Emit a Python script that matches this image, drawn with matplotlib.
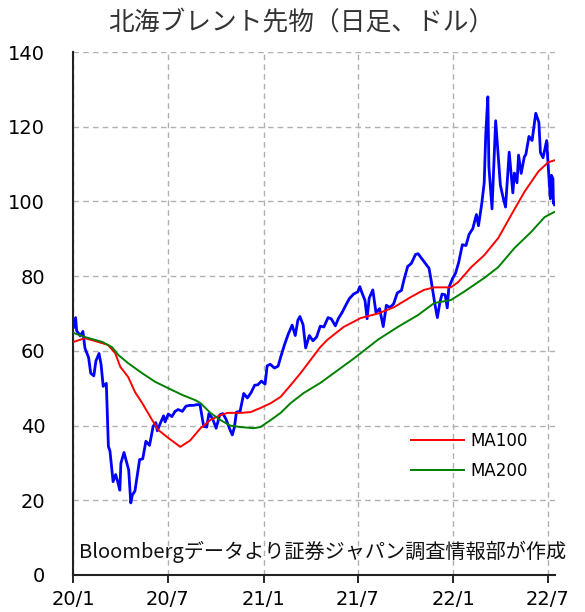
import matplotlib
matplotlib.use("Agg")
import matplotlib.pyplot as plt
import pandas as pd

plt.rcParams['font.family'] = ['DejaVu Sans', 'Noto Sans CJK JP']

title = "北海ブレント先物（日足、ドル）"
source_note = "Bloombergデータより証券ジャパン調査情報部が作成"

price_dates = [
    "2020-01-02", "2020-01-06", "2020-01-08", "2020-01-10", "2020-01-15", "2020-01-20", "2020-01-24",
    "2020-01-31", "2020-02-04", "2020-02-10", "2020-02-14", "2020-02-20", "2020-02-24", "2020-02-28",
    "2020-03-05", "2020-03-09", "2020-03-12", "2020-03-18", "2020-03-23", "2020-03-27", "2020-03-31",
    "2020-04-02", "2020-04-08", "2020-04-14", "2020-04-17", "2020-04-21", "2020-04-24", "2020-04-29",
    "2020-05-04", "2020-05-08", "2020-05-14", "2020-05-20", "2020-05-27", "2020-06-03", "2020-06-08",
    "2020-06-11", "2020-06-17", "2020-06-23", "2020-06-26", "2020-07-02", "2020-07-09", "2020-07-15",
    "2020-07-21", "2020-07-29", "2020-08-05", "2020-08-12", "2020-08-19", "2020-08-26", "2020-09-01",
    "2020-09-08", "2020-09-14", "2020-09-18", "2020-09-25", "2020-10-02", "2020-10-09", "2020-10-15",
    "2020-10-21", "2020-10-28", "2020-11-02", "2020-11-06", "2020-11-10", "2020-11-17", "2020-11-24",
    "2020-12-01", "2020-12-08", "2020-12-15", "2020-12-21", "2020-12-28",
    "2021-01-04", "2021-01-08", "2021-01-14", "2021-01-22", "2021-01-29", "2021-02-04", "2021-02-10",
    "2021-02-17", "2021-02-25", "2021-03-03", "2021-03-08", "2021-03-12", "2021-03-18", "2021-03-23",
    "2021-03-30", "2021-04-06", "2021-04-13", "2021-04-20", "2021-04-27", "2021-05-05", "2021-05-11",
    "2021-05-19", "2021-05-25", "2021-06-01", "2021-06-08", "2021-06-15", "2021-06-23", "2021-07-01",
    "2021-07-05", "2021-07-09", "2021-07-15", "2021-07-19", "2021-07-23", "2021-07-30", "2021-08-05",
    "2021-08-12", "2021-08-19", "2021-08-25", "2021-09-01", "2021-09-08", "2021-09-15", "2021-09-23",
    "2021-09-28", "2021-10-05", "2021-10-12", "2021-10-20", "2021-10-25", "2021-11-01", "2021-11-08",
    "2021-11-15", "2021-11-19", "2021-11-26", "2021-12-01", "2021-12-06", "2021-12-10", "2021-12-16",
    "2021-12-20", "2021-12-23", "2021-12-30",
    "2022-01-05", "2022-01-11", "2022-01-18", "2022-01-25", "2022-01-31", "2022-02-07", "2022-02-14",
    "2022-02-18", "2022-02-24", "2022-03-01", "2022-03-04", "2022-03-08", "2022-03-10", "2022-03-16",
    "2022-03-23", "2022-03-29", "2022-04-01", "2022-04-07", "2022-04-11", "2022-04-18", "2022-04-25",
    "2022-04-28", "2022-05-03", "2022-05-06", "2022-05-11", "2022-05-17", "2022-05-20", "2022-05-26",
    "2022-06-01", "2022-06-08", "2022-06-14", "2022-06-17", "2022-06-22", "2022-06-29", "2022-07-01",
    "2022-07-05", "2022-07-06", "2022-07-07", "2022-07-08", "2022-07-11", "2022-07-12", "2022-07-13",
    "2022-07-14",
]
price_vals = [
    66.3, 68.9, 65.4, 65.0, 64.0, 65.2, 60.7,
    58.2, 54.0, 53.3, 57.3, 59.3, 56.3, 50.5,
    51.3, 34.4, 33.2, 25.0, 26.9, 24.9, 22.7,
    29.9, 32.8, 29.6, 28.1, 19.3, 21.4, 22.5,
    27.2, 30.9, 31.1, 35.8, 34.7, 39.8, 40.8,
    38.6, 40.7, 42.6, 41.0, 43.1, 42.4, 43.8,
    44.3, 43.8, 45.2, 45.4, 45.4, 45.6, 45.6,
    39.8, 39.6, 43.2, 41.9, 39.3, 42.9, 43.2,
    41.7, 39.1, 37.5, 39.5, 43.6, 43.8, 48.6,
    47.4, 48.8, 50.8, 50.9, 51.9,
    51.1, 56.0, 56.4, 55.4, 55.9, 58.8, 61.5,
    64.3, 66.9, 64.1, 68.2, 69.2, 67.0, 60.8,
    64.1, 62.7, 63.7, 66.6, 66.4, 68.9, 68.6,
    66.7, 68.7, 70.3, 72.2, 74.0, 75.2, 75.8,
    77.2, 75.6, 73.5, 68.6, 74.1, 76.3, 70.3,
    71.3, 66.5, 72.2, 71.6, 72.6, 75.5, 76.2,
    79.1, 82.6, 83.4, 85.8, 86.0, 84.7, 83.4,
    82.1, 78.9, 72.7, 68.9, 73.1, 75.2, 75.0,
    71.5, 76.9, 79.3,
    80.8, 83.7, 88.4, 88.2, 91.2, 92.7, 96.5,
    93.5, 99.1, 105.0, 118.1, 128.0, 109.3, 98.0,
    121.6, 110.2, 104.4, 100.6, 98.5, 113.2, 102.3,
    107.6, 105.0, 112.4, 107.5, 111.9, 112.6, 117.4,
    116.3, 123.6, 121.2, 113.1, 111.7, 116.3, 111.6,
    102.8, 100.7, 104.6, 107.0, 106.1, 99.5, 99.6,
    99.1,
]

ma100_dates = [
    "2020-01-02", "2020-01-24", "2020-02-18", "2020-03-08", "2020-03-22", "2020-04-01", "2020-04-16",
    "2020-04-29", "2020-05-13", "2020-06-01", "2020-06-13", "2020-07-02", "2020-07-25", "2020-08-13",
    "2020-09-02", "2020-09-21", "2020-10-10", "2020-10-24", "2020-11-18", "2020-12-07", "2020-12-26",
    "2021-01-15", "2021-02-03", "2021-02-22", "2021-03-13", "2021-04-01", "2021-04-20", "2021-05-04",
    "2021-06-04", "2021-07-07", "2021-08-09", "2021-09-09", "2021-10-11", "2021-11-05", "2021-11-25",
    "2021-12-27", "2022-01-10", "2022-02-04", "2022-03-01", "2022-03-28", "2022-04-22", "2022-05-17",
    "2022-06-13", "2022-07-02", "2022-07-14",
]
ma100_vals = [
    62.4, 63.4, 62.4, 61.6, 59.4, 55.7, 53.0,
    49.0, 46.0, 41.5, 38.8, 36.7, 34.3, 36.0,
    39.3, 41.5, 42.8, 43.4, 43.4, 43.6, 44.7,
    46.0, 47.7, 50.8, 54.0, 57.5, 61.0, 63.0,
    66.4, 68.8, 70.0, 71.7, 74.4, 76.3, 77.0,
    77.0, 78.4, 82.4, 85.6, 90.2, 96.4, 102.5,
    108.0, 110.5, 111.0,
]

ma200_dates = [
    "2020-01-02", "2020-01-24", "2020-02-26", "2020-03-16", "2020-03-28", "2020-04-16", "2020-05-13",
    "2020-06-07", "2020-07-02", "2020-07-29", "2020-08-23", "2020-09-02", "2020-09-21", "2020-10-10",
    "2020-10-29", "2020-11-18", "2020-12-13", "2020-12-26", "2021-01-15", "2021-02-03", "2021-02-22",
    "2021-03-19", "2021-04-20", "2021-06-24", "2021-08-09", "2021-09-16", "2021-10-25", "2021-11-25",
    "2021-12-27", "2022-01-21", "2022-03-01", "2022-03-28", "2022-04-28", "2022-05-30", "2022-06-25",
    "2022-07-14",
]
ma200_vals = [
    64.8, 63.7, 62.4, 61.0, 58.9, 56.7, 54.0,
    51.7, 50.0, 48.2, 46.8, 46.0, 43.4, 41.5,
    40.0, 39.6, 39.3, 39.6, 41.5, 43.4, 46.0,
    48.7, 51.4, 58.0, 63.0, 66.4, 69.6, 72.8,
    73.6, 75.8, 79.5, 82.4, 87.5, 91.8, 95.8,
    97.2,
]

x_ticks = ["2020-01-01", "2020-07-01", "2021-01-01", "2021-07-01", "2022-01-01", "2022-07-01"]
x_tick_labels = ["20/1", "20/7", "21/1", "21/7", "22/1", "22/7"]
y_ticks = [0, 20, 40, 60, 80, 100, 120, 140]

fig = plt.figure(figsize=(5.85, 6.12), dpi=100)
ax = fig.add_axes([73 / 585, 1 - 575 / 612, (555 - 73) / 585, (575 - 52) / 612])

ax.plot(pd.to_datetime(price_dates), price_vals, color="#0000ff", lw=2.0, zorder=3)
ax.plot(pd.to_datetime(ma100_dates), ma100_vals, color="#ff0000", lw=1.4, zorder=4, label="MA100")
ax.plot(pd.to_datetime(ma200_dates), ma200_vals, color="#008000", lw=1.4, zorder=4, label="MA200")

ax.set_xlim(pd.Timestamp("2020-01-01"), pd.Timestamp("2022-07-15"))
ax.set_ylim(0, 140)
ax.set_xticks(pd.to_datetime(x_ticks))
ax.set_xticklabels(x_tick_labels)
ax.set_yticks(y_ticks)
ax.tick_params(axis="x", length=6, width=1.2, pad=5, labelsize=14, color="black")
ax.tick_params(axis="y", length=0, pad=20, labelsize=14)

ax.grid(True, color="#b0b0b0", linestyle=(0, (4, 3)), linewidth=1.0, zorder=0)
for s in ["top", "right"]:
    ax.spines[s].set_visible(False)
for s in ["left", "bottom"]:
    ax.spines[s].set_linewidth(1.5)
    ax.spines[s].set_color("#222222")

leg = ax.legend(loc="lower right", bbox_to_anchor=(0.975, 0.153), frameon=False, fontsize=12,
                handlelength=3.2, handletextpad=0.4, labelspacing=0.7)

fig.text(0.515, 1 - 22 / 612, title, ha="center", va="center", fontsize=18.5,
         family=["Noto Sans CJK JP", "DejaVu Sans"], color="#333333")
ax.text(0.012, 0.045, source_note, transform=ax.transAxes, ha="left", va="center",
        fontsize=14.5, family=["Noto Sans CJK JP", "DejaVu Sans"], color="#111111")

fig.savefig("out.png", dpi=100)
